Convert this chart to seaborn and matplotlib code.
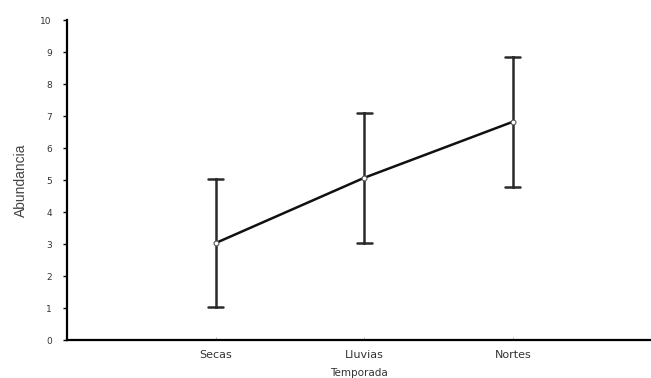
import matplotlib
matplotlib.use("Agg")
import matplotlib.pyplot as plt
import seaborn as sns
import pandas as pd

# values
temporadas = ["Secas", "Lluvias", "Nortes"]
medias = [3.03, 5.07, 6.82]
errores = [2.0, 2.03, 2.03]

# long-form table: lower / mean / upper per season, so the
# min-max interval becomes the error bar
rows = []
for t, m, e in zip(temporadas, medias, errores):
    for v in (m - e, m, m + e):
        rows.append({"Temporada": t, "Abundancia": v})
df = pd.DataFrame(rows)

sns.set_style("white")
plt.rcParams["font.family"] = ["DejaVu Sans"]

fig = plt.figure(figsize=(6.51, 3.78), dpi=100)
ax = fig.add_axes([0.103, 0.1005, 0.897, 0.8465])

sns.pointplot(
    data=df,
    x="Temporada",
    y="Abundancia",
    order=temporadas,
    estimator="mean",
    errorbar=lambda v: (v.min(), v.max()),
    color="#111111",
    capsize=0.1,
    err_kws={"linewidth": 1.8, "color": "#2a2a2a"},
    linewidth=1.8,
    markers="o",
    markersize=3.5,
    ax=ax,
)
# hollow white point markers like the original
for ln in ax.lines:
    if ln.get_marker() == "o":
        ln.set_markerfacecolor("white")
        ln.set_markeredgecolor("#555555")
        ln.set_markeredgewidth(0.8)
        ln.set_zorder(5)

ax.set_xlim(-1, 2.93)
ax.set_ylim(0, 10)
ax.set_yticks(range(0, 11))

sns.despine(ax=ax)
for side in ("left", "bottom"):
    ax.spines[side].set_linewidth(1.6)
    ax.spines[side].set_color("black")

ax.tick_params(axis="y", direction="out", length=3, width=1, pad=8,
               labelsize=6.5, labelcolor="#333333", color="black", left=True)
ax.tick_params(axis="x", direction="in", length=2, width=0.6, pad=7,
               labelsize=8, labelcolor="#333333", color="#aaaaaa", bottom=True)

ax.set_xlabel("Temporada", fontsize=7.5, color="#333333", labelpad=6)
ax.set_ylabel("Abundancia", fontsize=10, color="#444444", labelpad=9,
              family=["Liberation Sans Narrow", "Liberation Sans", "DejaVu Sans"])

fig.savefig("out.png", dpi=100)
